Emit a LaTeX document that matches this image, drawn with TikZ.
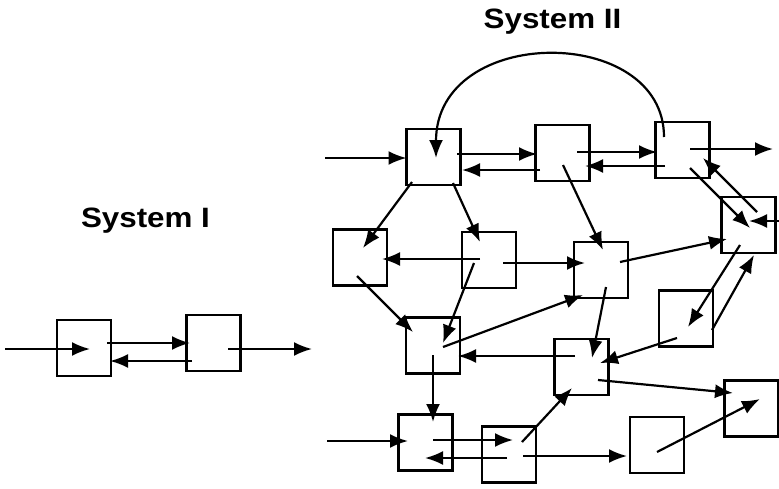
\documentclass[tikz,border=0pt]{standalone}
\usepackage{fontspec}
\usepackage{graphicx}
\setmainfont{Liberation Sans}
\usetikzlibrary{arrows.meta}

\begin{document}
\begin{tikzpicture}[x=1pt, y=-1pt,
  box/.style={draw, line width=2.8pt, minimum width=54pt, minimum height=56pt, inner sep=0pt},
  flow/.style={-{Latex[length=18pt, width=14pt]}, line width=2.2pt},
  sysname/.style={font=\fontsize{28}{30}\selectfont\bfseries, anchor=base, inner sep=0pt}]

\useasboundingbox[fill=white] (0,0) rectangle (779,488);

% Titles
\node[sysname] (t1) at (145.5,227) {\scalebox{1.12}[1]{System I}};
\node[sysname] (t2) at (552.5,28) {\scalebox{1.12}[1]{System II}};

% =========== System I ===========
\node[box] (a1) at (84,348) {};
\node[box] (a2) at (213.5,343) {};
\coordinate (ina) at (5,349);
\coordinate (outa) at (312,349);

\draw[flow] (ina) -- ([shift={(6,1)}]a1.center);
\draw[flow] ([shift={(23,-5)}]a1.center) -- ([shift={(-23.5,0)}]a2.center);
\draw[flow] ([shift={(-21.5,18)}]a2.center) -- ([shift={(26,13)}]a1.center);
\draw[flow] ([shift={(14.5,6)}]a2.center) -- (outa);

% =========== System II ===========
% top row
\node[box] (b1) at (433.5,157) {};
\node[box] (b2) at (562.5,153) {};
\node[box] (b3) at (682.5,150) {};
\node[box] (b4) at (748.5,225) {};
% middle row
\node[box] (c1) at (360,257.5) {};
\node[box] (c2) at (489,260) {};
\node[box] (c3) at (601,270) {};
\node[box] (c4) at (686,318.5) {};
% lower rows
\node[box] (d1) at (433,345.5) {};
\node[box] (d2) at (581.5,367) {};
\node[box] (d3) at (751.5,408.5) {};
\node[box] (e1) at (425.5,442.5) {};
\node[box] (e2) at (509,454.5) {};
\node[box] (e3) at (657,445) {};

\coordinate (inb) at (325,158);
\coordinate (outb) at (773,149);
\coordinate (inr) at (779,221);
\coordinate (ine) at (327,441);

% top row flows
\draw[flow] (inb) -- ([shift={(-27,1)}]b1.center);
\draw[flow] ([shift={(23.5,-3)}]b1.center) -- ([shift={(-25.5,1)}]b2.center);
\draw[flow] ([shift={(-22.5,17)}]b2.center) -- ([shift={(28.5,13)}]b1.center);
\draw[flow] ([shift={(14.5,-1)}]b2.center) -- ([shift={(-25.5,2)}]b3.center);
\draw[flow] ([shift={(-17.5,16)}]b3.center) -- ([shift={(22.5,13)}]b2.center);
\draw[flow] ([shift={(7.5,-1)}]b3.center) -- (outb);
\draw[flow] ([shift={(-18.5,-13)}]b3.center) .. controls (664,24) and (436,24) .. ([shift={(2.5,1)}]b1.center);
\draw[flow] ([shift={(7.5,18)}]b3.center) -- ([shift={(1.5,3)}]b4.center);
\draw[flow] ([shift={(8.5,-13)}]b4.center) -- ([shift={(20.5,8)}]b3.center);
\draw[flow] (inr) -- ([shift={(0.5,-4)}]b4.center);

% down to the middle row
\draw[flow] ([shift={(0.5,12)}]b2.center) -- ([shift={(2,-20)}]c3.center);
\draw[flow] ([shift={(-21.5,25)}]b1.center) -- ([shift={(3,-9.5)}]c1.center);
\draw[flow] ([shift={(19.5,26)}]b1.center) -- ([shift={(-9,-18)}]c2.center);
\draw[flow] ([shift={(19,-8)}]c3.center) -- ([shift={(-21.5,14)}]b4.center);
\draw[flow] ([shift={(-9,-1)}]c2.center) -- ([shift={(22,1.5)}]c1.center);
\draw[flow] ([shift={(14,3)}]c2.center) -- ([shift={(-16,-7)}]c3.center);
\draw[flow] ([shift={(-8.5,20)}]b4.center) -- ([shift={(2,8.5)}]c4.center);
\draw[flow] ([shift={(26,11.5)}]c4.center) -- ([shift={(5.5,30)}]b4.center);

% middle to lower
\draw[flow] ([shift={(-3,18.5)}]c1.center) -- ([shift={(-20,-13.5)}]d1.center);
\draw[flow] ([shift={(-15,3)}]c2.center) -- ([shift={(10,-2.5)}]d1.center);
\draw[flow] ([shift={(10,1.5)}]d1.center) -- ([shift={(-18,25)}]c3.center);
\draw[flow] ([shift={(5,17)}]c3.center) -- ([shift={(10.5,-9)}]d2.center);
\draw[flow] ([shift={(-9,19.5)}]c4.center) -- ([shift={(18.5,-4)}]d2.center);
\draw[flow] ([shift={(-6.5,-11)}]d2.center) -- ([shift={(25,10.5)}]d1.center);
\draw[flow] ([shift={(16.5,13)}]d2.center) -- ([shift={(-18.5,-15.5)}]d3.center);
\draw[flow] ([shift={(0,9.5)}]d1.center) -- ([shift={(7.5,-20.5)}]e1.center);

% bottom row
\draw[flow] (ine) -- ([shift={(-17.5,-1.5)}]e1.center);
\draw[flow] ([shift={(7.5,-2.5)}]e1.center) -- ([shift={(4,-14.5)}]e2.center);
\draw[flow] ([shift={(-2,3.5)}]e2.center) -- ([shift={(-0.5,15.5)}]e1.center);
\draw[flow] ([shift={(13,-12.5)}]e2.center) -- ([shift={(-9.5,21)}]d2.center);
\draw[flow] ([shift={(14,1.5)}]e2.center) -- ([shift={(-30,11)}]e3.center);
\draw[flow] ([shift={(0,7)}]e3.center) -- ([shift={(8.5,-9.5)}]d3.center);

\end{tikzpicture}
\end{document}
